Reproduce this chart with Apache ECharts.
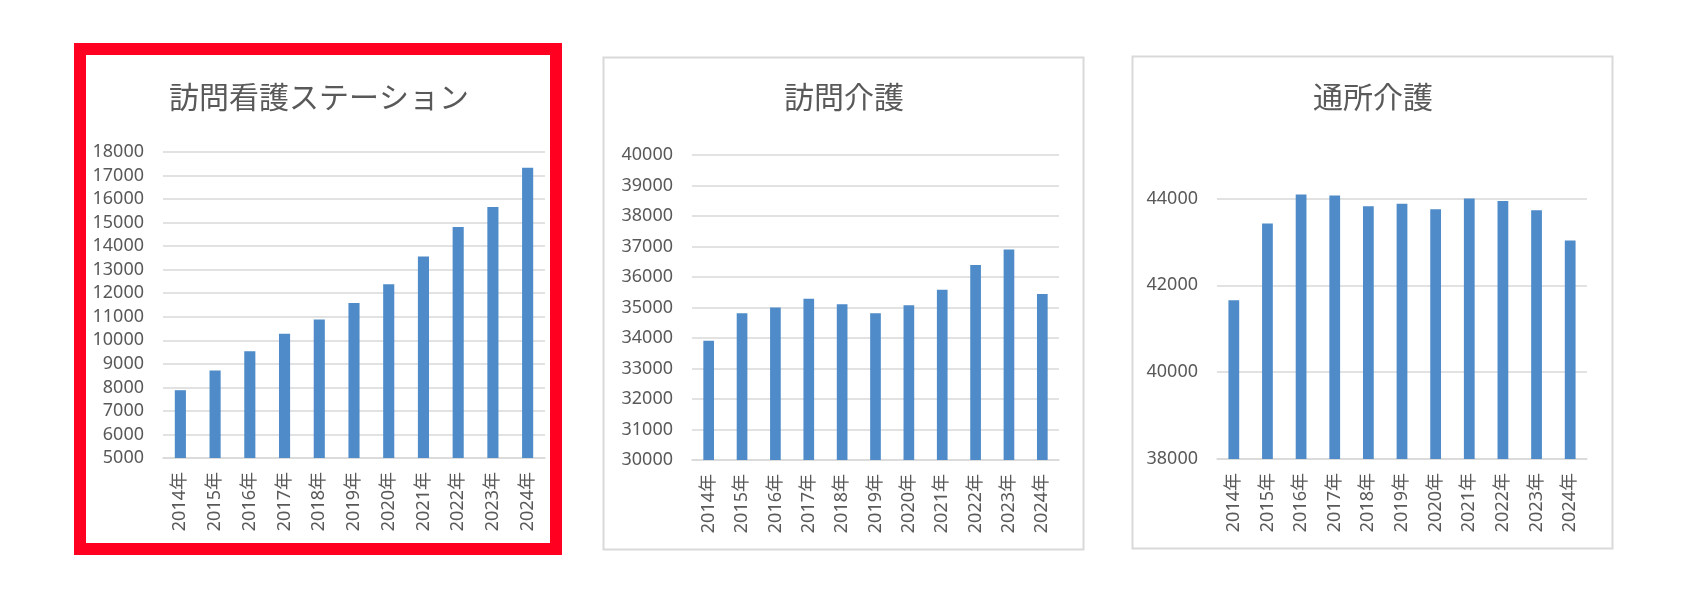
<!DOCTYPE html>
<html>
<head>
<meta charset="utf-8">
<script src="https://cdn.jsdelivr.net/npm/echarts@6/dist/echarts.min.js"></script>
<style>
  html, body { margin: 0; padding: 0; background: #ffffff; }
  #chart { width: 1684px; height: 600px; }
</style>
</head>
<body>
<div id="chart"></div>
<script>
const categories = ['2014年', '2015年', '2016年', '2017年', '2018年', '2019年', '2020年', '2021年', '2022年', '2023年', '2024年'];
const chartTitles = ['訪問看護ステーション', '訪問介護', '通所介護'];
const nurseStation = [7880, 8720, 9540, 10280, 10880, 11590, 12380, 13560, 14810, 15660, 17330];
const homeCare = [33910, 34810, 35000, 35290, 35110, 34810, 35070, 35580, 36390, 36900, 35440];
const dayCare = [41655, 43425, 44090, 44070, 43820, 43880, 43750, 44000, 43940, 43730, 43030];

const FONT = "'Noto Sans', 'Noto Sans CJK JP', sans-serif";
const TEXT = '#595959';
const GRID = '#d9d9d9';
const BAR = '#4e8bc8';

const grids = [
  { left: 163, top: 152, width: 382, height: 306 },
  { left: 692, top: 155, width: 367, height: 305 },
  { left: 1217, top: 192, width: 370, height: 267 }
];
const yRanges = [
  { min: 5000, max: 18000, interval: 1000 },
  { min: 30000, max: 40000, interval: 1000 },
  { min: 38000, max: 44150, interval: 2000 }
];
const seriesData = [nurseStation, homeCare, dayCare];
const titleCenters = [319, 844, 1373];

const chart = echarts.init(document.getElementById('chart'), null, { renderer: 'canvas' });

const option = {
  backgroundColor: '#ffffff',
  animation: false,
  title: chartTitles.map((t, i) => ({
    text: t,
    left: titleCenters[i],
    top: 82,
    textAlign: 'center',
    padding: 0,
    textStyle: { fontFamily: "'Noto Sans CJK JP', sans-serif", fontSize: 30, fontWeight: 'normal', color: TEXT }
  })),
  grid: grids,
  xAxis: grids.map((g, i) => ({
    type: 'category',
    gridIndex: i,
    data: categories,
    axisLine: { show: true, lineStyle: { color: GRID, width: 1.5 } },
    axisTick: { show: false },
    axisLabel: { rotate: 90, margin: 14, fontFamily: FONT, fontSize: 18, color: TEXT, interval: 0 }
  })),
  yAxis: grids.map((g, i) => ({
    type: 'value',
    gridIndex: i,
    min: yRanges[i].min,
    max: yRanges[i].max,
    interval: yRanges[i].interval,
    axisLine: { show: false },
    axisTick: { show: false },
    splitLine: { show: true, showMaxLine: i !== 2, lineStyle: { color: GRID, width: 1.5 } },
    axisLabel: {
      margin: 19, fontFamily: FONT, fontSize: 18, color: TEXT,
      showMaxLabel: i !== 2,
      formatter: v => String(v)
    }
  })),
  series: seriesData.map((d, i) => ({
    type: 'bar',
    xAxisIndex: i,
    yAxisIndex: i,
    data: d,
    barWidth: '32%',
    itemStyle: { color: BAR }
  })),
  graphic: [
    { type: 'rect', shape: { x: 80, y: 49, width: 476, height: 500 }, style: { fill: 'none', stroke: '#ff0021', lineWidth: 12 }, z: 100 },
    { type: 'rect', shape: { x: 603.5, y: 57.5, width: 480, height: 492 }, style: { fill: 'none', stroke: GRID, lineWidth: 2 }, z: 100 },
    { type: 'rect', shape: { x: 1132.5, y: 56.5, width: 480, height: 492 }, style: { fill: 'none', stroke: GRID, lineWidth: 2 }, z: 100 }
  ]
};
chart.setOption(option);
</script>
</body>
</html>
